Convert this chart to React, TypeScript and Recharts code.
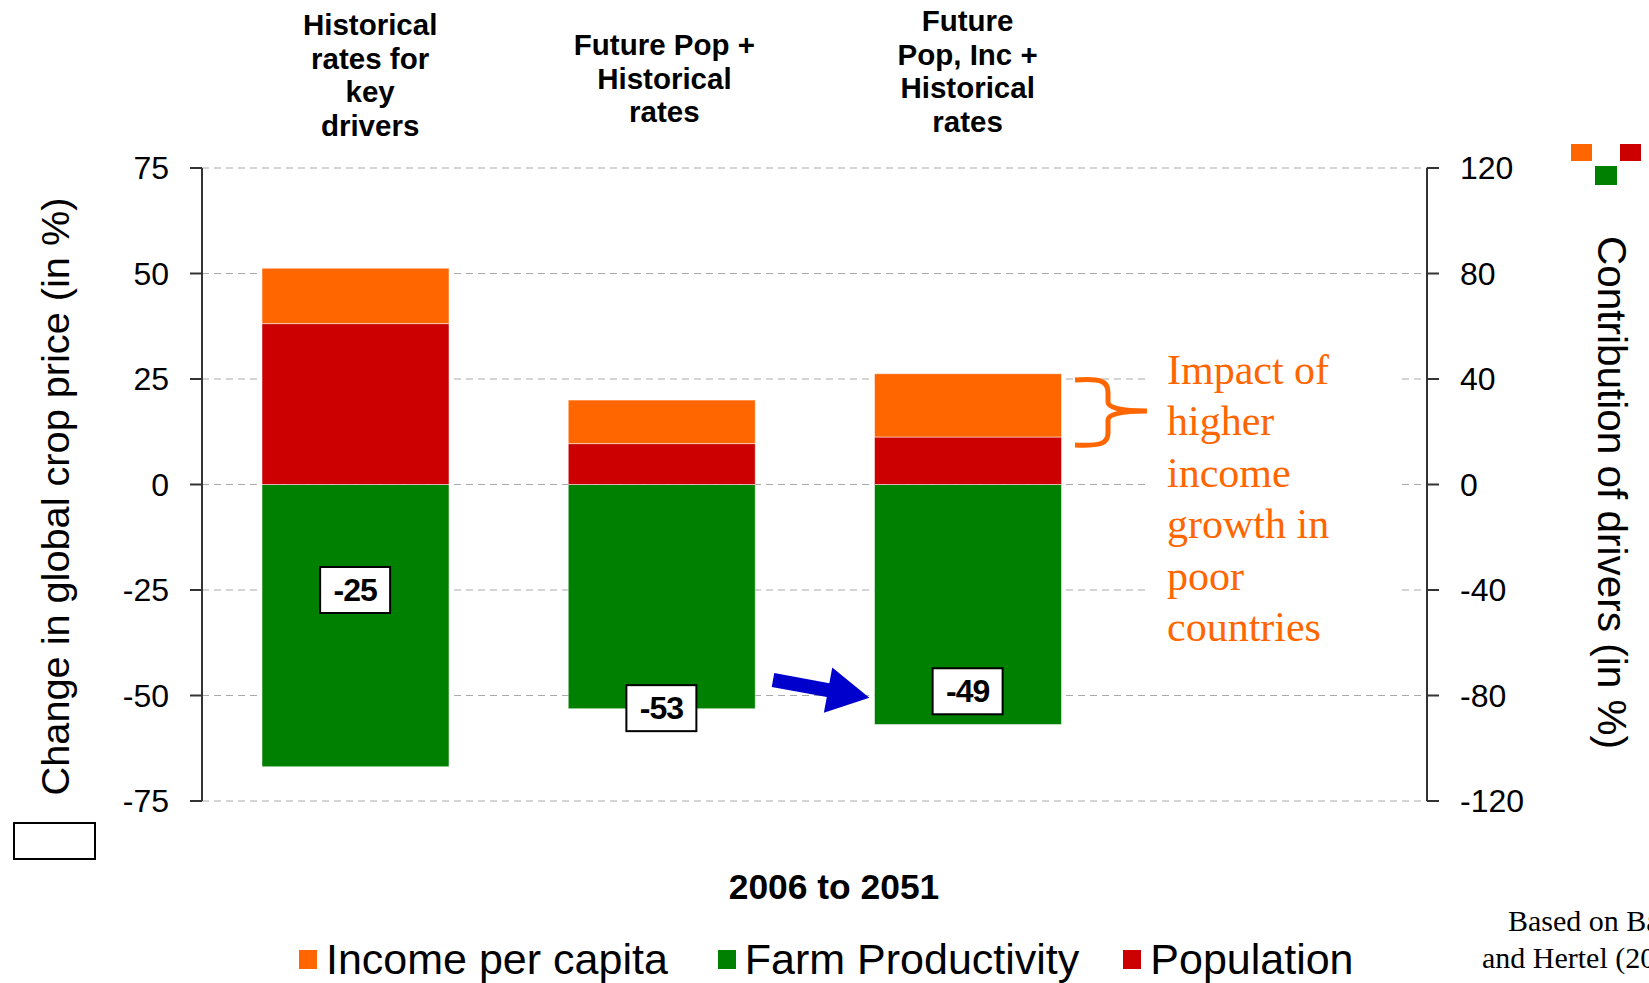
import React from "react";
import {
  ComposedChart,
  Bar,
  Scatter,
  XAxis,
  YAxis,
  CartesianGrid,
  Legend,
} from "recharts";

// scenarios (4th slot is empty, the annotation sits there)
const categories = [
  "Historical rates for key drivers",
  "Future Pop + Historical rates",
  "Future Pop, Inc + Historical rates",
  " ",
];
const titleLines = [
  ["Historical", "rates for", "key", "drivers"],
  ["Future Pop +", "Historical", "rates"],
  ["Future", "Pop, Inc +", "Historical", "rates"],
  [],
];

// contribution of drivers (right axis, %)
const incomePerCapita = [21, 16.5, 24, null];
const population = [61, 15.5, 18, null];
const farmProductivity = [-107, -85, -91, null];
// net change in global crop price (left axis, %)
const netPriceChange = [-25, -53, -49, null];

const leftTicks = [-75, -50, -25, 0, 25, 50, 75];
const rightTicks = [-120, -80, -40, 0, 40, 80, 120];

const ORANGE = "#FF6600";
const RED = "#CC0000";
const GREEN = "#008000";
const SANS = "'Liberation Sans', Arial, sans-serif";
const SERIF = "'Liberation Serif', 'Times New Roman', serif";

const legendItems = [
  { name: "Income per capita", color: ORANGE },
  { name: "Farm Productivity", color: GREEN },
  { name: "Population", color: RED },
];

const data = categories.map((c, i) => ({
  category: c,
  income: incomePerCapita[i],
  pop: population[i],
  farm: farmProductivity[i],
  net: netPriceChange[i],
}));

// title block placement tweaks (the slide text boxes aren't exactly centred)
const titleCenters = [75, 78, 71, 0];
const titleShift = [15, 3, 0, 0];

function TitleTick(props: any) {
  const { x, payload } = props;
  const idx = categories.indexOf(payload.value);
  const lines = titleLines[idx] || [];
  if (!lines.length) return <g />;
  const n = lines.length;
  const tx = x + titleShift[idx];
  return (
    <text x={tx} textAnchor="middle" fontFamily={SANS} fontWeight="bold" fontSize={29.5} fill="#000">
      {lines.map((l, i) => (
        <tspan key={i} x={tx} y={titleCenters[idx] + (i - (n - 1) / 2) * 33.5 + 10.5}>
          {l}
        </tspan>
      ))}
    </text>
  );
}

function NetBox(props: any) {
  const { cx, cy, payload } = props;
  if (payload == null || payload.net == null) return <g />;
  return (
    <g>
      <rect x={cx - 35} y={cy - 23} width={70} height={46} fill="#fff" stroke="#000" strokeWidth={2} />
      <text x={cx} y={cy + 11} textAnchor="middle" fontFamily={SANS} fontWeight="bold" fontSize={32} letterSpacing={-1} fill="#000">
        {payload.net}
      </text>
    </g>
  );
}

const LegendContent = () => (
  <div style={{ display: "flex", alignItems: "center", paddingLeft: 299, fontFamily: SANS, fontSize: 43, color: "#000" }}>
    {legendItems.map((it, i) => (
      <div key={it.name} style={{ display: "flex", alignItems: "center", marginRight: i === 0 ? 50 : 44 }}>
        <span style={{ display: "inline-block", width: 18, height: 19, background: it.color, marginRight: 9 }} />
        <span style={{ lineHeight: "48px" }}>{it.name}</span>
      </div>
    ))}
  </div>
);

const axisTitle = (text: string, side: "left" | "right") => (p: any) => {
  const vb = p.viewBox || {};
  const cy = vb.y + vb.height / 2 + (side === "left" ? 12 : 8);
  const cx = side === "left" ? 55 : vb.x + 185;
  const rot = side === "left" ? -90 : 90;
  return (
    <text
      x={cx}
      y={cy}
      transform={`rotate(${rot}, ${cx}, ${cy})`}
      textAnchor="middle"
      dominantBaseline="central"
      fontFamily={SANS}
      fontSize={side === "left" ? 39.7 : 40.5}
      fill="#000"
    >
      {text}
    </text>
  );
};

export default function App() {
  return (
    <div style={{ position: "absolute", left: 0, top: 0, width: 1649, height: 983, overflow: "hidden", background: "#fff" }}>
      <ComposedChart
        width={1649}
        height={983}
        data={data}
        stackOffset="sign"
        margin={{ top: 0, right: 0, bottom: 182, left: 0 }}
        style={{ fontFamily: SANS }}
      >
        <CartesianGrid yAxisId="left" vertical={false} stroke="#aaaaaa" strokeDasharray="7 5" />
        <XAxis
          dataKey="category"
          orientation="top"
          height={168}
          axisLine={false}
          tickLine={false}
          interval={0}
          tick={(p: any) => <TitleTick {...p} />}
        />
        <YAxis
          yAxisId="left"
          domain={[-75, 75]}
          ticks={leftTicks}
          width={202}
          tickSize={12}
          tickMargin={21}
          axisLine={{ stroke: "#333", strokeWidth: 2 }}
          tickLine={{ stroke: "#333", strokeWidth: 2 }}
          tick={{ fill: "#000", fontSize: 32, fontFamily: SANS }}
          label={axisTitle("Change in global crop price (in %)", "left")}
        />
        <YAxis
          yAxisId="right"
          orientation="right"
          domain={[-120, 120]}
          ticks={rightTicks}
          width={222}
          tickSize={12}
          tickMargin={21}
          axisLine={{ stroke: "#333", strokeWidth: 2 }}
          tickLine={{ stroke: "#333", strokeWidth: 2 }}
          tick={{ fill: "#000", fontSize: 32, fontFamily: SANS }}
          label={axisTitle("Contribution of drivers (in %)", "right")}
        />
        <Bar yAxisId="right" dataKey="farm" name="Farm Productivity" stackId="d" fill={GREEN} barSize={187} stroke="rgba(255,255,255,0.5)" strokeWidth={1} isAnimationActive={false} />
        <Bar yAxisId="right" dataKey="pop" name="Population" stackId="d" fill={RED} barSize={187} stroke="rgba(255,255,255,0.5)" strokeWidth={1} isAnimationActive={false} />
        <Bar yAxisId="right" dataKey="income" name="Income per capita" stackId="d" fill={ORANGE} barSize={187} stroke="rgba(255,255,255,0.5)" strokeWidth={1} isAnimationActive={false} />
        <Scatter yAxisId="left" dataKey="net" shape={(p: any) => <NetBox {...p} />} isAnimationActive={false} legendType="none" />
        <Legend
          layout="vertical"
          verticalAlign="middle"
          align="center"
          content={LegendContent}
          wrapperStyle={{ left: 0, top: 935, width: 1649 }}
        />
      </ComposedChart>

      {/* decorations drawn on top of the chart */}
      <svg width={1649} height={983} style={{ position: "absolute", left: 0, top: 0, pointerEvents: "none" }}>
        <rect x={1571} y={144} width={21} height={17} fill={ORANGE} />
        <rect x={1595} y={166} width={22} height={19} fill={GREEN} />
        <rect x={1620} y={144} width={21} height={17} fill={RED} />
        <rect x={14} y={823} width={81} height={36} fill="none" stroke="#000" strokeWidth={2} />
        <polygon
          points="0,-7 56,-7 56,-23 98,0 56,23 56,7 0,7"
          fill="#0000CC"
          transform="translate(773,680) rotate(10.5)"
        />
        <rect x={1148} y={340} width={250} height={310} fill="#fff" />
        <path
          d="M1075,380 C1100,378 1108,381 1108,392 L1108,402 Q1108,411 1147,411 Q1108,411 1108,420 L1108,433 C1108,444 1100,446 1075,445"
          fill="none"
          stroke={ORANGE}
          strokeWidth={5}
        />
      </svg>

      <div style={{ position: "absolute", left: 1167, top: 345, fontFamily: SERIF, fontSize: 42, lineHeight: "51.4px", color: ORANGE }}>
        Impact of
        <br />
        higher
        <br />
        income
        <br />
        growth in
        <br />
        poor
        <br />
        countries
      </div>

      <div
        style={{
          position: "absolute",
          left: 834,
          top: 887,
          transform: "translate(-50%, -50%)",
          fontFamily: SANS,
          fontWeight: "bold",
          fontSize: 35.4,
          whiteSpace: "nowrap",
        }}
      >
        2006 to 2051
      </div>

      <div style={{ position: "absolute", left: 1508, top: 902, fontFamily: SERIF, fontSize: 30, whiteSpace: "nowrap", lineHeight: "37px" }}>
        Based on Baldos
      </div>
      <div style={{ position: "absolute", left: 1482, top: 939, fontFamily: SERIF, fontSize: 30, whiteSpace: "nowrap", lineHeight: "37px" }}>
        and Hertel (2012)
      </div>
    </div>
  );
}
